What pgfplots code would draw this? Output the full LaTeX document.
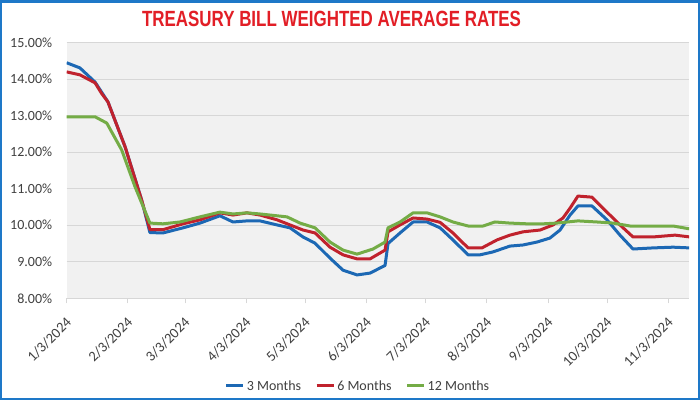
\documentclass[border=0pt]{standalone}
\usepackage{pgfplots}
\pgfplotsset{compat=1.18}
\usepackage{fontspec}
\setmainfont{Carlito}
\newfontfamily\titlefont{Liberation Sans}
\usepackage{graphicx}
\definecolor{bluec}{RGB}{28,104,180}
\definecolor{redc}{RGB}{192,34,45}
\definecolor{greenc}{RGB}{116,172,70}
\definecolor{titlered}{RGB}{226,30,38}
\definecolor{framec}{RGB}{30,120,200}
\definecolor{plotbg}{RGB}{241,241,241}
\definecolor{gridc}{RGB}{215,215,215}
\definecolor{labelc}{RGB}{64,64,64}
\begin{document}
\begin{tikzpicture}
\path[use as bounding box] (-66.7pt,-101.7pt) rectangle (633.3pt,298.3pt);
\fill[white] (-66.7pt,-101.7pt) rectangle (633.3pt,298.3pt);
\begin{axis}[
  scale only axis, width=622.3pt, height=255.6pt,
  xmin=0, xmax=315.5, ymin=8, ymax=15,
  axis background/.style={fill=plotbg},
  axis x line*=bottom, axis y line*=left,
  x axis line style={draw=gridc, line width=0.8pt, -},
  y axis line style={draw=none},
  xtick={0,31,60,91,121,152,182,213,244,274,305},
  xticklabels={1/3/2024,2/3/2024,3/3/2024,4/3/2024,5/3/2024,6/3/2024,7/3/2024,8/3/2024,9/3/2024,10/3/2024,11/3/2024},
  ytick={8,9,10,11,12,13,14,15},
  yticklabels={8.00\%,9.00\%,10.00\%,11.00\%,12.00\%,13.00\%,14.00\%,15.00\%},
  ymajorgrids, grid style={draw=gridc, line width=0.8pt},
  tick align=outside, major tick length=5pt,
  xtick style={draw=gridc, line width=0.8pt},
  ytick style={draw=none},
  xticklabel style={xshift=3pt, yshift=-16pt, rotate=45, anchor=east, inner sep=1pt, font=\fontsize{14.5}{16}\selectfont, text=labelc},
  yticklabel style={font=\fontsize{14}{16}\selectfont, text=labelc, xshift=-6pt},
  legend style={at={(0.468,-0.343)}, anchor=center, draw=none, fill=none,
    legend columns=3, font=\fontsize{14}{16}\selectfont, text=labelc,
    /tikz/every even column/.append style={column sep=12pt}},
  legend cell align=left,
  every axis plot/.append style={line width=3pt, line join=round, no markers},
]
\addplot[bluec] coordinates {(0,14.45)(6.7,14.31)(14.4,13.92)(20.9,13.38)(29.6,12.15)(38.0,10.69)(42.2,9.80)(48.8,9.79)(59.0,9.93)(67.6,10.06)(77.7,10.26)(84.3,10.09)(91.4,10.12)(98.0,10.12)(106.6,10.01)(113.2,9.93)(119.8,9.68)(125.9,9.51)(133.5,9.10)(140.1,8.77)(147.2,8.64)(153.8,8.69)(161.4,8.90)(162.9,9.50)(169.0,9.79)(175.6,10.09)(182.7,10.09)(189.3,9.93)(195.8,9.60)(203.5,9.19)(209.5,9.19)(216.1,9.27)(224.7,9.43)(231.3,9.46)(238.4,9.54)(245.0,9.65)(250.1,9.87)(255.2,10.28)(259.2,10.53)(266.3,10.53)(273.9,10.15)(280.5,9.73)(287.1,9.35)(297.2,9.38)(307.4,9.40)(316,9.38)};
\addlegendentry{3 Months}
\addplot[redc] coordinates {(0,14.20)(6.7,14.12)(14.4,13.90)(17.7,13.61)(20.9,13.38)(29.6,12.15)(38.0,10.69)(42.2,9.88)(48.8,9.88)(59.0,10.04)(67.6,10.15)(77.7,10.34)(84.3,10.28)(91.4,10.34)(98.0,10.28)(106.6,10.15)(113.2,10.01)(119.8,9.87)(125.9,9.79)(133.5,9.40)(140.1,9.19)(147.2,9.08)(153.8,9.08)(161.4,9.32)(162.9,9.82)(169.0,10.01)(175.6,10.20)(182.7,10.17)(189.3,10.08)(195.8,9.79)(203.5,9.38)(210.5,9.38)(218.2,9.60)(224.7,9.73)(231.3,9.82)(240.0,9.87)(246.6,10.01)(251.6,10.20)(255.2,10.47)(259.2,10.80)(266.3,10.77)(273.9,10.36)(280.5,10.01)(287.1,9.68)(297.2,9.68)(308.4,9.73)(316,9.68)};
\addlegendentry{6 Months}
\addplot[greenc] coordinates {(0,12.97)(14.4,12.97)(20.3,12.80)(27.9,12.06)(34.6,11.06)(42.2,10.06)(48.8,10.04)(57.4,10.09)(67.6,10.23)(77.7,10.36)(84.3,10.31)(91.4,10.34)(98.0,10.31)(111.7,10.23)(118.3,10.06)(125.9,9.93)(133.5,9.54)(140.1,9.32)(147.2,9.21)(155.3,9.35)(161.4,9.54)(162.9,9.93)(169.0,10.09)(175.6,10.34)(182.7,10.34)(189.3,10.23)(195.8,10.09)(203.5,9.98)(211.1,9.98)(217.1,10.09)(224.7,10.06)(233.4,10.04)(241.5,10.04)(248.6,10.06)(259.2,10.12)(268.9,10.09)(277.0,10.06)(285.6,9.98)(297.2,9.98)(307.4,9.98)(316,9.90)};
\addlegendentry{12 Months}
\end{axis}
\node[text=titlered, font=\titlefont\bfseries\fontsize{22}{24}\selectfont, inner sep=0pt] at (264.8pt,279.3pt) {\scalebox{0.77}[1]{TREASURY BILL WEIGHTED AVERAGE RATES}};
\draw[framec, line width=2.5pt] (-65.45pt,-100.45pt) rectangle (632.05pt,297.05pt);
\end{tikzpicture}
\end{document}
